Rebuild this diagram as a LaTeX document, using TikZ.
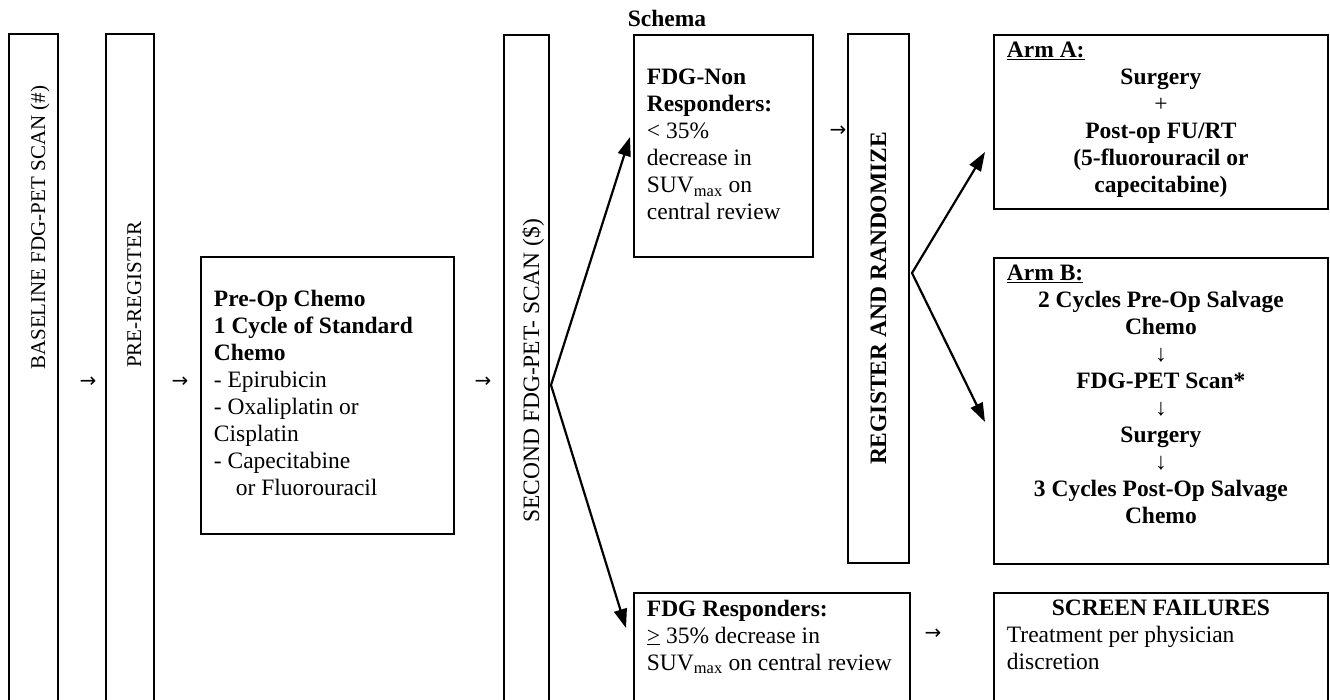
\documentclass[tikz,border=0pt]{standalone}
\usepackage{fontspec}
\setmainfont{Liberation Serif}
\newfontfamily\arrowfont{DejaVu Sans}
\usetikzlibrary{positioning,arrows.meta}

\newcommand{\cellbody}[3]{\parbox[t][#2][t]{#1}{\raggedright #3}}

\begin{document}
\begin{tikzpicture}[x=1pt,y=-1pt,>={Triangle[length=19pt,width=13pt]},
  font=\fontsize{23.5}{27}\selectfont,
  frame/.style={draw,line width=1.8pt,anchor=north west,inner sep=0pt},
  cell/.style={draw,line width=1.8pt,anchor=north west,inner xsep=13pt,inner ysep=7pt},
  vlabel/.style={rotate=90,anchor=base west,inner sep=0pt},
  textarrow/.style={font=\arrowfont\fontsize{20}{24}\selectfont,inner sep=0pt},
  flow/.style={line width=2.2pt,<->,line join=miter}]
\useasboundingbox (0,0) rectangle (1330,700);
\clip (0,0) rectangle (1330,700);

\node[anchor=base] (title) at (667,27) {\textbf{Schema}};

\node[frame,minimum width=49pt,minimum height=720pt] (base) at (8,33) {};
\node[vlabel,font=\fontsize{21}{25}\selectfont] (baseT) at (45,370) {BASELINE FDG-PET SCAN (\#)};
\node[textarrow] (arrBase) at (88,382) {→};
\node[frame,minimum width=48pt,minimum height=720pt] (prereg) at (105,33) {};
\node[vlabel,font=\fontsize{21}{25}\selectfont] (preregT) at (141,368) {PRE-REGISTER};
\node[textarrow] (arrPre) at (180,382) {→};

\node[cell] (preop) at (200,256) {\cellbody{227pt}{263pt}{\vspace*{26pt}\textbf{Pre-Op Chemo}\\
  \textbf{1 Cycle of Standard}\\ \textbf{Chemo}\\ - Epirubicin\\ - Oxaliplatin or\\ Cisplatin\\
  - Capecitabine\\ \hspace*{22pt}or Fluorouracil}};
\node[textarrow] (arrChemo) at (483,382) {→};

\node[frame,minimum width=45pt,minimum height=720pt] (second) at (503,34) {};
\node[vlabel] (secondT) at (539,523) {SECOND FDG-PET- SCAN (\$)};

\node[cell] (nonresp) at (633,34) {\cellbody{153pt}{208pt}{\vspace*{27pt}\textbf{FDG-Non}\\
  \textbf{Responders:}\\ < 35\%\\ decrease in\\ SUV\textsubscript{max} on\\ central review}};
\node[textarrow] (arrReg) at (838,131) {→};
\node[draw,line width=1.8pt,rotate=90,minimum width=529pt,minimum height=61pt,inner sep=0pt]
  (reg) at (878.5,298.5) {\textbf{REGISTER AND RANDOMIZE}};

\node[cell] (armA) at (993,34) {\cellbody{308pt}{160pt}{\textbf{\underline{Arm A:}}\par\centering
  \textbf{Surgery}\\ +\\ \textbf{Post-op FU/RT}\\ \textbf{(5-fluorouracil or}\\ \textbf{capecitabine)}}};
\node[cell] (armB) at (993,257) {\cellbody{308pt}{292pt}{\textbf{\underline{Arm B:}}\par\centering
  \textbf{2 Cycles Pre-Op Salvage}\\ \textbf{Chemo}\\ ↓\\ \textbf{FDG-PET Scan*}\\ ↓\\
  \textbf{Surgery}\\ ↓\\ \textbf{3 Cycles Post-Op Salvage}\\ \textbf{Chemo}}};

\node[cell] (resp) at (633,592) {\cellbody{250pt}{200pt}{\textbf{FDG Responders:}\\
  \underline{>} 35\% decrease in\\ SUV\textsubscript{max} on central review}};
\node[textarrow] (arrFail) at (933,634) {→};
\node[cell] (fail) at (993,592) {\cellbody{308pt}{200pt}{{\centering\textbf{SCREEN FAILURES}\par}
  Treatment per physician\\ discretion}};

\coordinate (fork1) at (551,385);
\coordinate (fork2) at (912,273);
\draw[flow] ([shift={(-3pt,-103pt)}]nonresp.north west) -- (fork1) -- ([shift={(-7pt,-36pt)}]resp.north west);
\draw[flow] ([shift={(-8pt,-118pt)}]armA.north west) -- (fork2) -- ([shift={(-8pt,-165pt)}]armB.north west);
\end{tikzpicture}
\end{document}
